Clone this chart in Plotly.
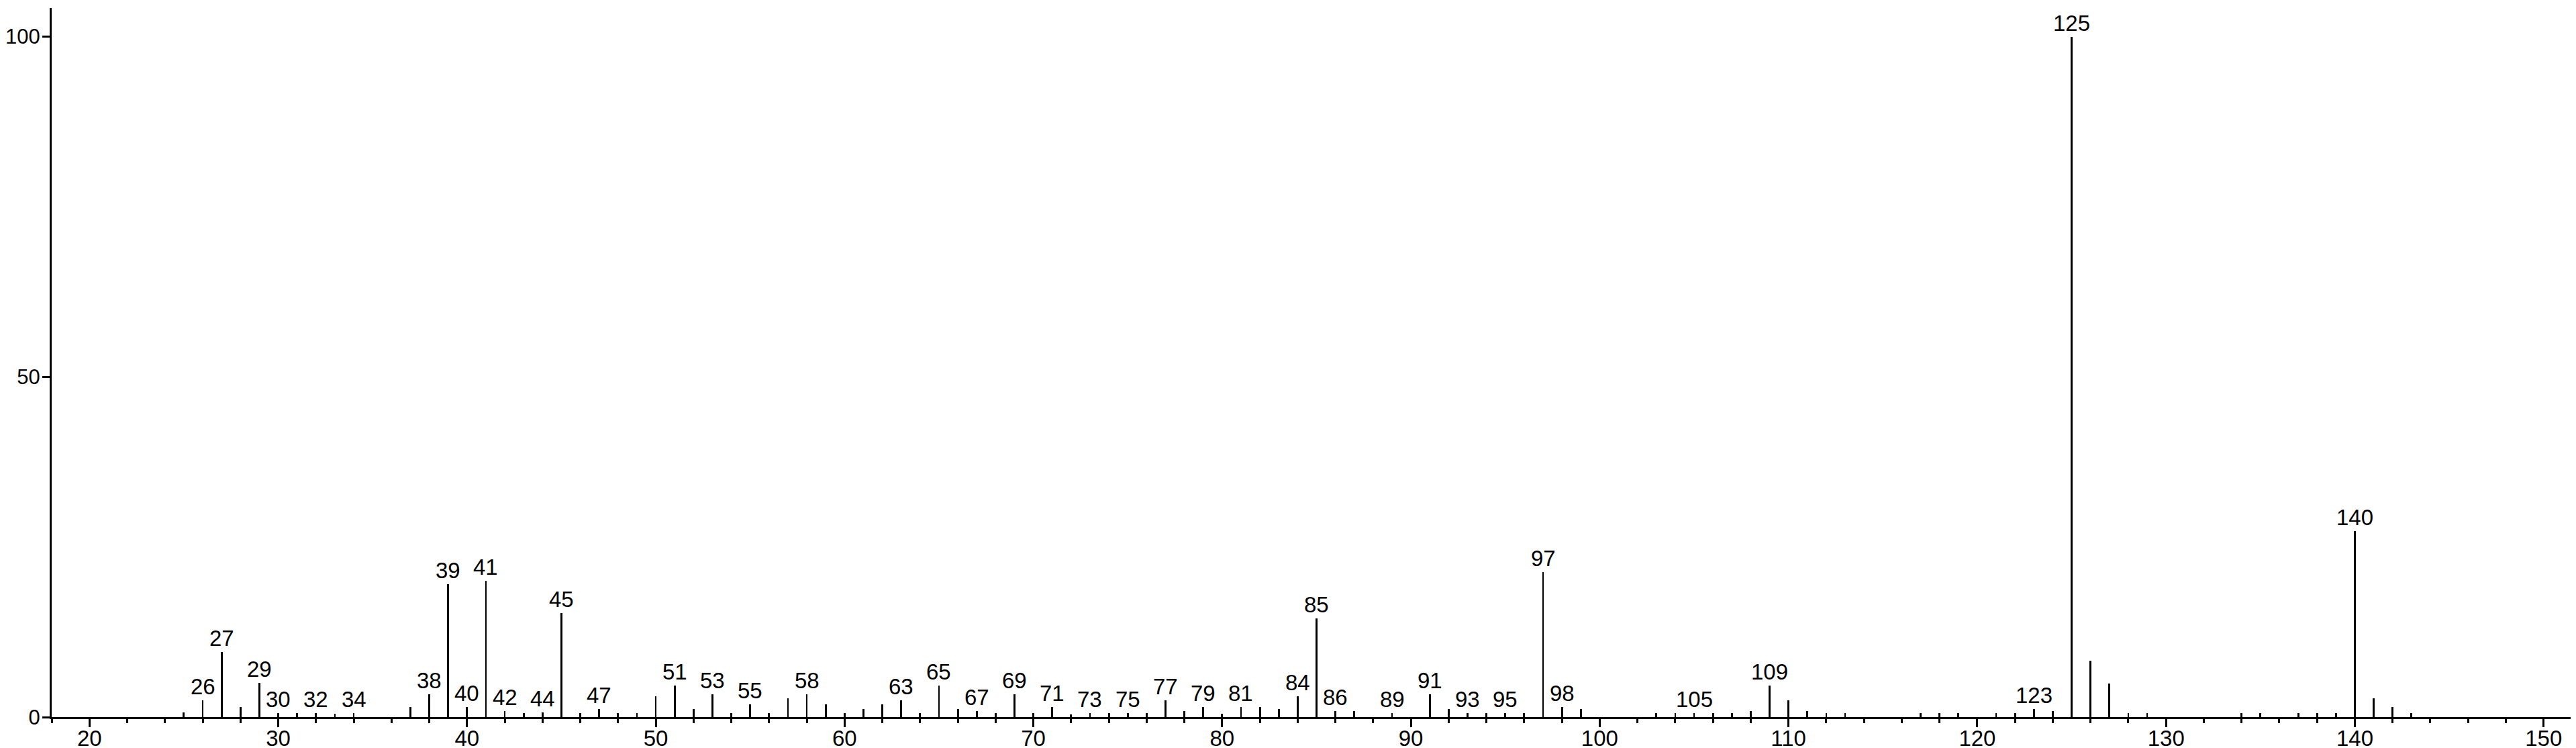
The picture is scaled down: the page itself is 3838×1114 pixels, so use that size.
import plotly.graph_objects as go

# m/z values and relative intensities
mz = [25, 26, 27, 28, 29, 30, 31, 32, 33, 34, 37, 38, 39, 40,
      41, 42, 43, 44, 45, 46, 47, 48, 49, 50, 51, 52, 53, 54, 55, 56, 57, 58, 59, 60,
      61, 62, 63, 64, 65, 66, 67, 68, 69, 70, 71, 72, 73, 74, 75, 76, 77, 78, 79, 80,
      81, 82, 83, 84, 85, 86, 87, 89, 91, 92, 93, 94, 95, 96, 97, 98, 99,
      103, 104, 105, 106, 107, 108, 109, 110, 111, 112, 113, 117, 118, 119,
      121, 122, 123, 124, 125, 126, 127, 128, 129, 134, 135, 137, 138, 139,
      140, 141, 142, 143]
intensity = [0.7, 2.5, 9.6, 1.5, 5.0, 0.6, 0.6, 0.6, 0.5, 0.6, 1.5, 3.4, 19.5, 1.5,
             20.0, 0.9, 0.6, 0.7, 15.3, 0.6, 1.2, 0.6, 0.6, 3.1, 4.6, 1.2, 3.4, 0.6, 1.9, 0.6, 2.8, 3.4, 1.9, 0.6,
             1.2, 1.9, 2.5, 0.6, 4.6, 1.2, 0.9, 0.6, 3.4, 0.6, 1.5, 0.4, 0.6, 0.6, 0.6, 0.6, 2.5, 0.9, 1.5, 0.5,
             1.5, 1.5, 1.2, 3.1, 14.5, 0.9, 0.9, 0.6, 3.4, 1.2, 0.6, 0.6, 0.6, 0.6, 21.3, 1.5, 1.2,
             0.6, 0.6, 0.6, 0.6, 0.6, 0.9, 4.6, 2.5, 0.9, 0.6, 0.6, 0.6, 0.6, 0.6,
             0.6, 0.6, 1.2, 0.9, 100.0, 8.3, 4.9, 0.6, 0.6, 0.6, 0.6, 0.6, 0.6, 0.6,
             27.3, 2.8, 1.5, 0.6]

# peaks that carry an m/z label
labelled = [26, 27, 29, 30, 32, 34, 38, 39, 40, 41, 42, 44, 45, 47, 51, 53, 55, 58,
            63, 65, 67, 69, 71, 73, 75, 77, 79, 81, 84, 85, 86, 89, 91, 93, 95, 97,
            98, 105, 109, 123, 125, 140]

x_ticks = list(range(20, 151, 10))
y_ticks = [0, 50, 100]

FONT = "Liberation Sans, Arial, Helvetica, sans-serif"

fig = go.Figure()
fig.add_trace(go.Bar(
    x=mz,
    y=intensity,
    width=0.1,
    marker=dict(color="black", line=dict(width=0)),
    hoverinfo="x+y"
))

peak = dict(zip(mz, intensity))
for m in labelled:
    fig.add_annotation(
        x=m, y=peak[m], text=str(m),
        showarrow=False, yanchor="bottom", xanchor="center",
        yshift=0,
        font=dict(family=FONT, size=33, color="black")
    )

fig.update_layout(
    width=3838,
    height=1114,
    margin=dict(l=69, r=0, t=4, b=54),
    paper_bgcolor="white",
    plot_bgcolor="white",
    showlegend=False,
    bargap=0,
    font=dict(family=FONT, size=33, color="black"),
    xaxis=dict(
        range=[18, 152],
        tickvals=x_ticks,
        ticks="outside", ticklen=12, tickwidth=3, tickcolor="black",
        ticklabelstandoff=-12,
        minor=dict(dtick=2, tick0=20, ticks="outside", ticklen=6, tickwidth=3, tickcolor="black"),
        showline=True, linewidth=3, linecolor="black",
        showgrid=False, zeroline=False, automargin=False,
        tickfont=dict(family=FONT, size=33)
    ),
    yaxis=dict(
        range=[0, 104.2],
        tickvals=y_ticks,
        ticks="outside", ticklen=11, tickwidth=3, tickcolor="black",
        ticklabelstandoff=-3,
        showline=True, linewidth=3, linecolor="black",
        showgrid=False, zeroline=False, automargin=False,
        tickfont=dict(family=FONT, size=31)
    )
)

fig.write_html("out.html")
